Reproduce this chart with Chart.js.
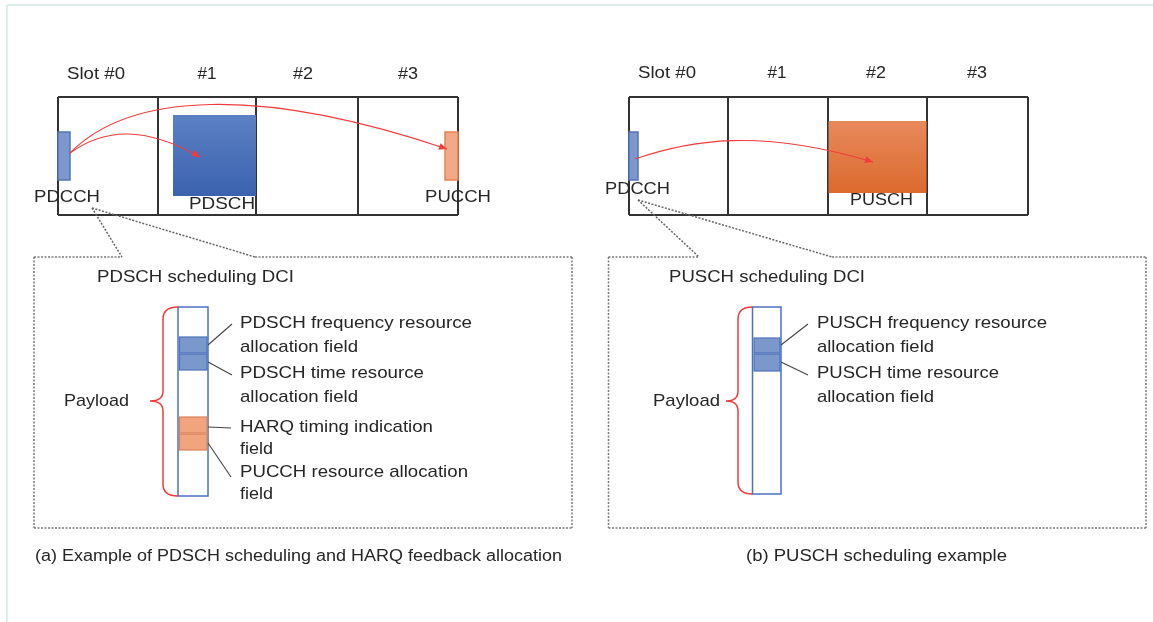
<!DOCTYPE html>
<html><head><meta charset="utf-8">
<script src="https://cdn.jsdelivr.net/npm/chart.js@4.4.1/dist/chart.umd.min.js"></script>
<style>html,body{margin:0;padding:0;background:#fff;}canvas{display:block;}</style>
</head><body>
<canvas id="c" width="1153" height="622"></canvas>
<script>
// ---------- data (diagram coordinates) ----------
const slotLabels = ['Slot #0', '#1', '#2', '#3'];
const slotLabelCentersA = [96, 207, 303, 408];
const slotLabelCentersB = [667, 777, 876, 977];
const slotLabelWidths = [58, 19, 20, 20];
const slotLabelY = [74, 73];
const slotBoundsA = [58, 158, 256, 358, 458];
const slotBoundsB = [629, 728, 828, 927, 1028];
const slotRowY = [97, 215];

const channelNames = ['PDCCH', 'PDSCH', 'PUCCH', 'PDCCH', 'PUSCH'];
const channelKind = ['ctrl', 'dlData', 'ulCtrl', 'ctrl', 'ulData'];
const channelX0 = [58, 173, 445, 629, 828.5];
const channelX1 = [70, 256, 458, 638, 926.5];
const channelY0 = [132, 115, 132, 132, 121];
const channelY1 = [180, 196, 180, 180, 193];
const channelLabelX0 = [34, 189, 425, 605, 850];
const channelLabelX1 = [100, 255, 491, 670, 913];
const channelLabelY = [197, 204, 197, 189, 200];

const arrowPaths = [
  [[70, 153], [130, 92], [260, 86], [447, 149]],
  [[70, 153], [105, 128], [145, 126], [200, 157]],
  [[635, 159], [690, 140], [760, 128], [873, 162]]
];

const dciTitles = ['PDSCH scheduling DCI', 'PUSCH scheduling DCI'];
const dciTitleX0 = [97, 669];
const dciTitleX1 = [294, 865];
const dciTitleY = [277, 277];
const dciBoxX0 = [34, 608.5];
const dciBoxX1 = [572, 1146];
const dciBoxY0 = [257, 257];
const dciBoxY1 = [528, 528];
const dciGapX0 = [122, 699];
const dciGapX1 = [255, 832];
const calloutFrom = [[92, 208], [638, 200]];

const payloadColX0 = [178, 752.5];
const payloadColX1 = [208, 781];
const payloadColY0 = [307, 307];
const payloadColY1 = [496, 494];
const braceBarX = [163, 738];
const braceTipX = [150, 726];
const braceMidY = [401, 401];
const payloadLabelX0 = [64, 653];
const payloadLabelX1 = [129, 720];

const fieldPanel = [0, 0, 0, 0, 1, 1];
const fieldKind = ['dl', 'dl', 'ul', 'ul', 'dl', 'dl'];
const fieldY0 = [337, 354, 417, 434, 338, 354];
const fieldY1 = [353, 370, 433, 450, 353, 371];
const leaderStartY = [345, 362, 427, 443, 345, 362];
const leaderEndX = [232, 232, 231, 231, 808, 808];
const leaderEndY = [324, 375, 428, 477, 324, 375];

const fieldTexts = ['PDSCH frequency resource', 'allocation field', 'PDSCH time resource', 'allocation field',
  'HARQ timing indication', 'field', 'PUCCH resource allocation', 'field',
  'PUSCH frequency resource', 'allocation field', 'PUSCH time resource', 'allocation field'];
const fieldTextX0 = [240, 240, 240, 240, 240, 240, 240, 240, 817, 817, 817, 817];
const fieldTextX1 = [472, 358, 424, 358, 433, 273, 468, 273, 1047, 934, 999, 934];
const fieldTextY = [323, 347, 373, 397, 427, 449, 472, 494, 323, 347, 373, 397];

const captions = ['(a) Example of PDSCH scheduling and HARQ feedback allocation', '(b) PUSCH scheduling example'];
const captionX0 = [35, 746];
const captionX1 = [562, 1007];
const captionY = [557, 557];

// ---------- styles ----------
const FONT = '"Liberation Sans", Arial, sans-serif';
const TEXT = '#262626';
const RED = '#f03c3c';

const diagramPlugin = {
  id: 'diagram',
  afterDraw(chart) {
    const ctx = chart.ctx, xs = chart.scales.x, ys = chart.scales.y;
    const X = v => xs.getPixelForValue(v), Y = v => ys.getPixelForValue(v);

    function line(x0, y0, x1, y1, color, w, dash) {
      ctx.save(); ctx.strokeStyle = color; ctx.lineWidth = w; ctx.setLineDash(dash || []);
      ctx.beginPath(); ctx.moveTo(X(x0), Y(y0)); ctx.lineTo(X(x1), Y(y1)); ctx.stroke(); ctx.restore();
    }
    function text(str, x0, x1, y, size) {
      ctx.save(); ctx.font = size + 'px ' + FONT; ctx.fillStyle = TEXT; ctx.textBaseline = 'middle';
      const m = ctx.measureText(str).width; const w = X(x1) - X(x0);
      ctx.translate(X(x0), Y(y)); ctx.scale(w / m, 1); ctx.fillText(str, 0, 0); ctx.restore();
    }
    function rect(x0, y0, x1, y1, fill, stroke, lw) {
      ctx.save(); ctx.fillStyle = fill; ctx.fillRect(X(x0), Y(y0), X(x1) - X(x0), Y(y1) - Y(y0));
      if (stroke) { ctx.strokeStyle = stroke; ctx.lineWidth = lw || 1; ctx.strokeRect(X(x0), Y(y0), X(x1) - X(x0), Y(y1) - Y(y0)); }
      ctx.restore();
    }
    function grad(y0, y1, c0, c1) {
      const g = ctx.createLinearGradient(0, Y(y0), 0, Y(y1)); g.addColorStop(0, c0); g.addColorStop(1, c1); return g;
    }

    // outer frame
    line(7, 5, 1153, 5, '#d2e7e4', 1.5);
    line(7, 5, 7, 622, '#d2e7e4', 1.5);

    // slot grids
    [[slotBoundsA, slotLabelCentersA, slotLabelY[0]], [slotBoundsB, slotLabelCentersB, slotLabelY[1]]].forEach(([b, c, ly]) => {
      line(b[0], slotRowY[0], b[b.length - 1], slotRowY[0], '#333', 2);
      line(b[0], slotRowY[1], b[b.length - 1], slotRowY[1], '#333', 2);
      b.forEach(v => line(v, slotRowY[0], v, slotRowY[1], '#333', 2));
      slotLabels.forEach((s, i) => text(s, c[i] - slotLabelWidths[i] / 2, c[i] + slotLabelWidths[i] / 2, ly, 17));
    });

    // channels
    channelNames.forEach((n, i) => {
      const k = channelKind[i];
      let fill, stroke = null;
      if (k === 'ctrl') { fill = '#7d96cb'; stroke = '#5076bf'; }
      else if (k === 'dlData') { fill = grad(channelY0[i], channelY1[i], '#5c80c4', '#3a62ae'); }
      else if (k === 'ulCtrl') { fill = '#f1a98a'; stroke = '#e9814f'; }
      else { fill = grad(channelY0[i], channelY1[i], '#e8895d', '#dc6a2d'); }
      rect(channelX0[i], channelY0[i], channelX1[i], channelY1[i], fill, stroke, 1.5);
    });
    channelNames.forEach((n, i) => text(n, channelLabelX0[i], channelLabelX1[i], channelLabelY[i], 17));

    // arrows
    arrowPaths.forEach(p => {
      ctx.save(); ctx.strokeStyle = RED; ctx.fillStyle = RED; ctx.lineWidth = 1.1;
      ctx.beginPath(); ctx.moveTo(X(p[0][0]), Y(p[0][1]));
      ctx.bezierCurveTo(X(p[1][0]), Y(p[1][1]), X(p[2][0]), Y(p[2][1]), X(p[3][0]), Y(p[3][1]));
      ctx.stroke();
      const ex = X(p[3][0]), ey = Y(p[3][1]);
      const a = Math.atan2(ey - Y(p[2][1]), ex - X(p[2][0]));
      const L = 8, W = 3.5;
      ctx.beginPath(); ctx.moveTo(ex, ey);
      ctx.lineTo(ex - L * Math.cos(a) + W * Math.sin(a), ey - L * Math.sin(a) - W * Math.cos(a));
      ctx.lineTo(ex - L * Math.cos(a) - W * Math.sin(a), ey - L * Math.sin(a) + W * Math.cos(a));
      ctx.closePath(); ctx.fill(); ctx.restore();
    });

    // DCI boxes and callouts
    const DOT = [2, 1.5];
    dciTitles.forEach((t, i) => {
      const c = '#7a7a7a';
      line(dciBoxX0[i], dciBoxY0[i], dciGapX0[i], dciBoxY0[i], c, 1.5, DOT);
      line(dciGapX1[i], dciBoxY0[i], dciBoxX1[i], dciBoxY0[i], c, 1.5, DOT);
      line(dciBoxX0[i], dciBoxY0[i], dciBoxX0[i], dciBoxY1[i], c, 1.5, DOT);
      line(dciBoxX1[i], dciBoxY0[i], dciBoxX1[i], dciBoxY1[i], c, 1.5, DOT);
      line(dciBoxX0[i], dciBoxY1[i], dciBoxX1[i], dciBoxY1[i], c, 1.5, DOT);
      line(calloutFrom[i][0], calloutFrom[i][1], dciGapX0[i], dciBoxY0[i], '#666', 1.5, DOT);
      line(calloutFrom[i][0], calloutFrom[i][1], dciGapX1[i], dciBoxY0[i], '#666', 1.5, DOT);
      text(t, dciTitleX0[i], dciTitleX1[i], dciTitleY[i], 17);

      // payload column
      rect(payloadColX0[i], payloadColY0[i], payloadColX1[i], payloadColY1[i], '#fff', '#4a72c4', 1.5);
      // brace
      const top = payloadColY0[i], bot = payloadColY1[i], mid = braceMidY[i];
      const cx = payloadColX0[i], bx = braceBarX[i], tx = braceTipX[i];
      ctx.save(); ctx.strokeStyle = RED; ctx.lineWidth = 1.5; ctx.beginPath();
      ctx.moveTo(X(cx), Y(top));
      ctx.quadraticCurveTo(X(bx), Y(top), X(bx), Y(top + 12));
      ctx.lineTo(X(bx), Y(mid - 10));
      ctx.quadraticCurveTo(X(bx), Y(mid), X(tx), Y(mid));
      ctx.quadraticCurveTo(X(bx), Y(mid), X(bx), Y(mid + 10));
      ctx.lineTo(X(bx), Y(bot - 12));
      ctx.quadraticCurveTo(X(bx), Y(bot), X(cx), Y(bot));
      ctx.stroke(); ctx.restore();
      text('Payload', payloadLabelX0[i], payloadLabelX1[i], braceMidY[i], 17);
    });

    // fields
    fieldPanel.forEach((p, i) => {
      const dl = fieldKind[i] === 'dl';
      rect(payloadColX0[p] + 1.5, fieldY0[i], payloadColX1[p] - 1, fieldY1[i], dl ? '#7b98cc' : '#f0a57f', dl ? '#4d72ba' : '#d98257', 1.2);
      line(payloadColX1[p], leaderStartY[i], leaderEndX[i], leaderEndY[i], '#444', 1.1);
    });
    fieldTexts.forEach((t, i) => text(t, fieldTextX0[i], fieldTextX1[i], fieldTextY[i], 17));

    captions.forEach((t, i) => text(t, captionX0[i], captionX1[i], captionY[i], 16));
  }
};

new Chart(document.getElementById('c'), {
  type: 'scatter',
  data: { datasets: [{ data: [], pointRadius: 0 }] },
  options: {
    responsive: false, animation: false, events: [],
    layout: { padding: 0 },
    plugins: { legend: { display: false }, tooltip: { enabled: false } },
    scales: {
      x: { type: 'linear', min: 0, max: 1153, display: false },
      y: { type: 'linear', min: 0, max: 622, reverse: true, display: false }
    }
  },
  plugins: [diagramPlugin]
});
</script>
</body></html>
